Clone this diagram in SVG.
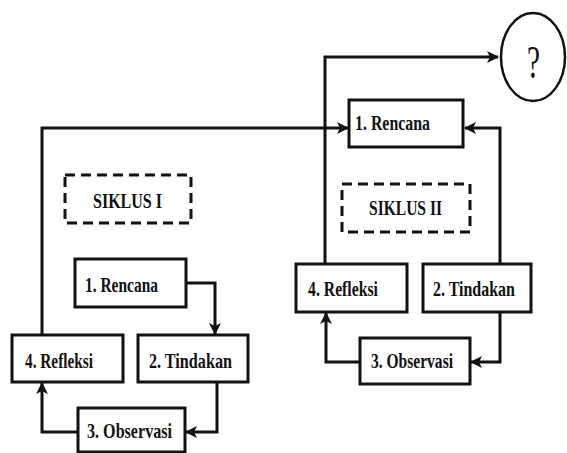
<svg xmlns="http://www.w3.org/2000/svg" width="567" height="453" viewBox="0 0 567 453">
<style>
.box{fill:#fff;stroke:#111;stroke-width:3}
.dash{fill:none;stroke:#111;stroke-width:3;stroke-dasharray:10 6}
.lbl{font-family:"Liberation Serif","Times New Roman",serif;font-weight:bold;font-size:21px;fill:#111}
.con{fill:none;stroke:#111;stroke-width:3}
</style>
<defs>
<marker id="ah" markerUnits="userSpaceOnUse" markerWidth="14" markerHeight="14" refX="12" refY="7" orient="auto">
<path d="M1,1 L13,7 L1,13 L4,7 z" fill="#111"/>
</marker>
</defs>
<rect width="567" height="453" fill="#fff"/>
<g id="connectors">
<path class="con" d="M325,264 V57 H498" marker-end="url(#ah)"/>
<path class="con" d="M42,335 V128 H348" marker-end="url(#ah)"/>
<path class="con" d="M500,264 V128 H465" marker-end="url(#ah)"/>
<path class="con" d="M186,283 H215 V334" marker-end="url(#ah)"/>
<path class="con" d="M217,382 V432 H186" marker-end="url(#ah)"/>
<path class="con" d="M78,432 H42 V383" marker-end="url(#ah)"/>
<path class="con" d="M500,312 V362 H471" marker-end="url(#ah)"/>
<path class="con" d="M360,362 H326 V313" marker-end="url(#ah)"/>
</g>
<g id="end">
<ellipse cx="533" cy="57" rx="32" ry="44" fill="#fff" stroke="#111" stroke-width="2.5"/>
<text x="527" y="78" class="lbl" style="font-weight:normal;font-size:46px" textLength="13" lengthAdjust="spacingAndGlyphs">?</text>
</g>
<g id="rencana2">
<rect class="box" x="349" y="100" width="114" height="47"/>
<text x="355" y="130" class="lbl" textLength="75" lengthAdjust="spacingAndGlyphs">1. Rencana</text>
</g>
<g id="siklus1">
<rect class="dash" x="65" y="175" width="126" height="48"/>
<text x="93" y="208" class="lbl" textLength="69" lengthAdjust="spacingAndGlyphs">SIKLUS I</text>
</g>
<g id="siklus2">
<rect class="dash" x="342" y="184" width="128" height="48"/>
<text x="369" y="215" class="lbl" textLength="73" lengthAdjust="spacingAndGlyphs">SIKLUS II</text>
</g>
<g id="refleksi2">
<rect class="box" x="296" y="264" width="111" height="48"/>
<text x="308" y="296" class="lbl" textLength="70" lengthAdjust="spacingAndGlyphs">4. Refleksi</text>
</g>
<g id="tindakan2">
<rect class="box" x="423" y="264" width="108" height="48"/>
<text x="433" y="296" class="lbl" textLength="82" lengthAdjust="spacingAndGlyphs">2. Tindakan</text>
</g>
<g id="observasi2">
<rect class="box" x="360" y="338" width="110" height="46"/>
<text x="371" y="368" class="lbl" textLength="82" lengthAdjust="spacingAndGlyphs">3. Observasi</text>
</g>
<g id="rencana1">
<rect class="box" x="75" y="259" width="111" height="48"/>
<text x="85" y="292" class="lbl" textLength="73" lengthAdjust="spacingAndGlyphs">1. Rencana</text>
</g>
<g id="refleksi1">
<rect class="box" x="12" y="335" width="111" height="47"/>
<text x="25" y="368" class="lbl" textLength="68" lengthAdjust="spacingAndGlyphs">4. Refleksi</text>
</g>
<g id="tindakan1">
<rect class="box" x="138" y="335" width="110" height="47"/>
<text x="149" y="368" class="lbl" textLength="83" lengthAdjust="spacingAndGlyphs">2. Tindakan</text>
</g>
<g id="observasi1">
<rect class="box" x="78" y="408" width="107" height="44"/>
<text x="87" y="438" class="lbl" textLength="85" lengthAdjust="spacingAndGlyphs">3. Observasi</text>
</g>
</svg>
